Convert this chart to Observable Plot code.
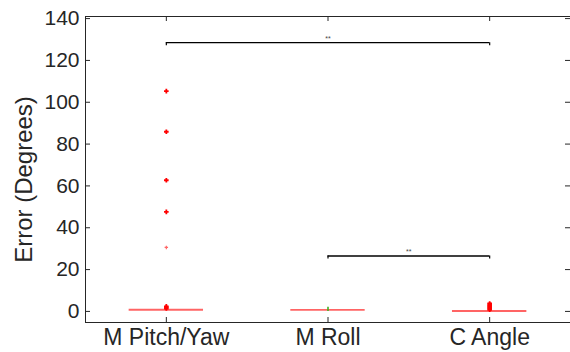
<!DOCTYPE html>
<html>
<head>
<meta charset="utf-8">
<script src="https://cdn.jsdelivr.net/npm/d3@7"></script>
<script src="https://cdn.jsdelivr.net/npm/@observablehq/plot@0.6"></script>
<style>
  html, body { margin: 0; padding: 0; background: #fff; }
  svg { display: block; }
</style>
</head>
<body>
<div id="chart"></div>
<script>
// ---- data ----
const categories = ["M Pitch/Yaw", "M Roll", "C Angle"];
const medians = [0.8, 0.7, 0.2];
const outliersPitchYaw = [105.3, 85.9, 62.7, 47.6, 1.4, 1.9, 2.4];
const faintOutliersPitchYaw = [30.6];
const outliersCAngle = [0.8, 1.3, 1.8, 2.3, 2.8, 3.3, 3.8];
const rollMark = [0.0, 2.0];
const yTicks = [0, 20, 40, 60, 80, 100, 120, 140];
const brackets = [
  {from: 0, to: 2, y: 128.5, label: "**"},
  {from: 1, to: 2, y: 26.5, label: "**"}
];

// ---- derived tables ----
const pos = categories.map((c, i) => i + 1);
const medianRows = categories.map((c, i) => ({pos: pos[i], value: medians[i]}));
const outlierRows = [
  ...outliersPitchYaw.map(v => ({pos: pos[0], value: v})),
  ...outliersCAngle.map(v => ({pos: pos[2], value: v}))
];
const faintRows = faintOutliersPitchYaw.map(v => ({pos: pos[0], value: v}));
const bracketRows = brackets.map(b => ({x1: pos[b.from], x2: pos[b.to], y: b.y, label: b.label}));
const rollRows = [{pos: pos[1], y1: rollMark[0], y2: rollMark[1]}];

const W = 570, H = 352;
const mL = 85, mR = 0, mT = 16, mB = 30;
const plotW = W - mL - mR, plotH = H - mT - mB;
const half = 0.23;
const ink = "#262626";
const font = "Liberation Sans, Arial, Helvetica, sans-serif";

const chart = Plot.plot({
  width: W,
  height: H,
  marginLeft: mL,
  marginRight: mR,
  marginTop: mT,
  marginBottom: mB,
  style: {fontFamily: font, color: ink, background: "#fff"},
  x: {type: "linear", domain: [0.5, 3.5]},
  y: {domain: [-5.3, 141]},
  marks: [
    // frame lines (left, bottom, top)
    Plot.ruleX([0.5], {stroke: ink, strokeWidth: 1}),
    Plot.ruleY([-5.3], {stroke: ink, strokeWidth: 1}),
    Plot.ruleY([141], {stroke: ink, strokeWidth: 1}),
    // inward y ticks (left and right)
    Plot.ruleY(yTicks, {stroke: ink, insetRight: plotW - 5}),
    Plot.ruleY(yTicks, {stroke: ink, insetLeft: plotW - 5}),
    // inward x ticks (bottom and top)
    Plot.ruleX(pos, {stroke: ink, insetTop: plotH - 5}),
    Plot.ruleX(pos, {stroke: ink, insetBottom: plotH - 5}),
    // axis labels
    Plot.axisY({ticks: yTicks, tickSize: 0, tickPadding: 6, fontSize: 21, label: null, fill: ink}),
    Plot.axisX({ticks: pos, tickSize: 0, tickPadding: 6, fontSize: 23, label: null, fill: ink,
      tickFormat: d => categories[Math.round(d) - 1]}),
    Plot.text(["Error (Degrees)"], {frameAnchor: "left", textAnchor: "middle", rotate: -90,
      dx: -61, dy: 10, fontSize: 24, fill: ink}),
    // median lines
    Plot.ruleY(medianRows, {y: "value", x1: d => d.pos - half, x2: d => d.pos + half,
      stroke: "#ff3030", strokeOpacity: 0.75, strokeWidth: 1.8}),
    // M Roll small green mark
    Plot.ruleX(rollRows, {x: "pos", y1: "y1", y2: "y2", stroke: "#40b020", strokeWidth: 1.6}),
    // outliers
    Plot.dot(outlierRows, {x: "pos", y: "value", symbol: "plus", r: 1.6, stroke: "#ff0000", strokeWidth: 1.8, fill: "none"}),
    Plot.dot(faintRows, {x: "pos", y: "value", symbol: "plus", r: 1.2, stroke: "#ff0000", strokeOpacity: 0.6, strokeWidth: 1.2, fill: "none"}),
    // significance brackets
    Plot.ruleY(bracketRows, {y: "y", x1: "x1", x2: "x2", stroke: "#000", strokeWidth: 1.4}),
    Plot.ruleX(bracketRows, {x: "x1", y1: "y", y2: "y", insetBottom: -3, stroke: "#000", strokeWidth: 1.2}),
    Plot.ruleX(bracketRows, {x: "x2", y1: "y", y2: "y", insetBottom: -3, stroke: "#000", strokeWidth: 1.2}),
    Plot.text(bracketRows, {x: d => (d.x1 + d.x2) / 2, y: "y", text: "label", dy: -4, fontSize: 7, fill: "#444"})
  ]
});
document.getElementById("chart").appendChild(chart);
</script>
</body>
</html>
